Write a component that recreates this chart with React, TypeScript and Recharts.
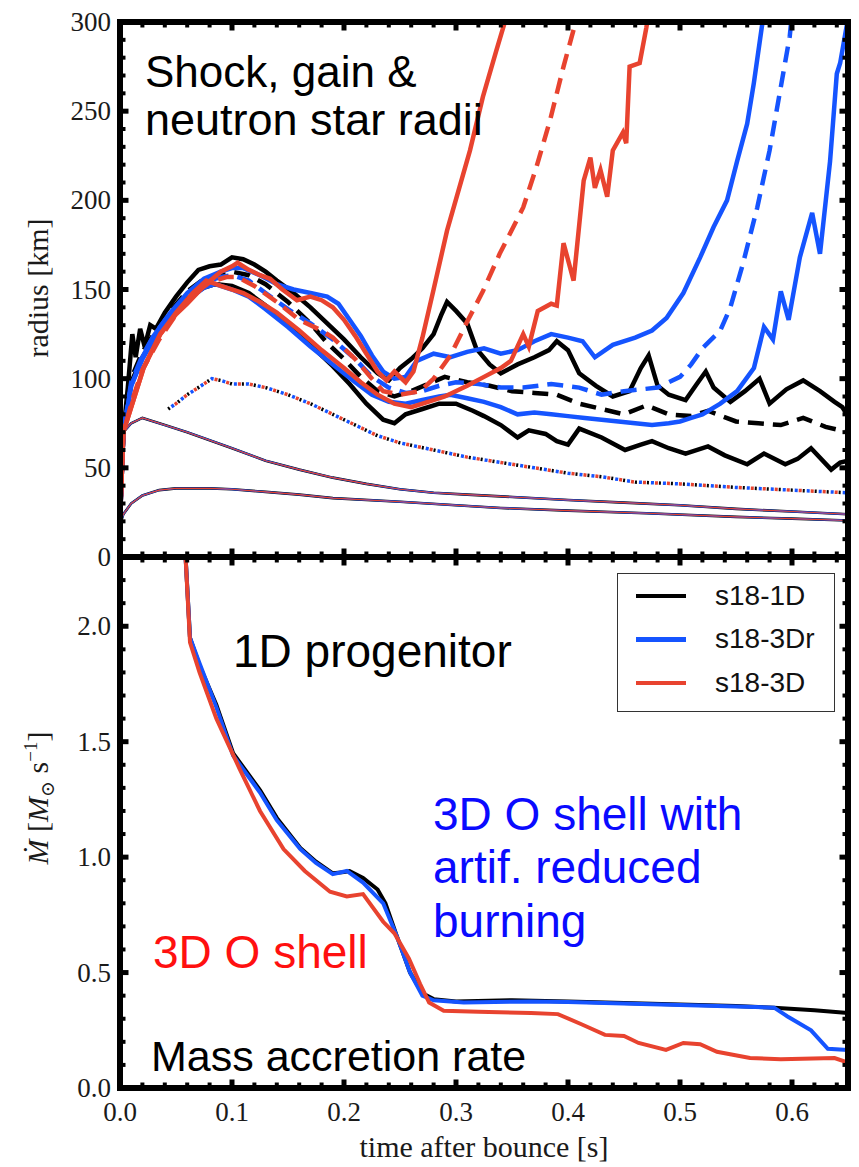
import React from 'react';
import { LineChart, Line, XAxis, YAxis, Legend } from 'recharts';

type Pt = [number, number];

// ---- top panel: radius [km] vs time after bounce [s] ----
const shockMax1D: Pt[] = [
  [0, 20], [0.003, 70], [0.007, 95], [0.011, 125], [0.014, 112], [0.018, 128], [0.022, 118], [0.027, 130],
  [0.032, 128], [0.04, 137], [0.05, 146], [0.06, 154], [0.07, 161], [0.08, 163], [0.09, 164], [0.1, 168],
  [0.11, 167], [0.12, 164], [0.13, 160], [0.14, 155], [0.155, 148], [0.17, 140], [0.185, 131], [0.2, 122],
  [0.215, 112], [0.23, 103], [0.24, 99], [0.25, 106], [0.26, 111], [0.27, 117], [0.28, 125], [0.287, 136],
  [0.292, 143], [0.3, 138], [0.31, 131], [0.318, 117], [0.33, 108], [0.34, 103], [0.355, 108], [0.37, 112],
  [0.383, 116], [0.39, 121], [0.4, 116], [0.41, 103], [0.425, 96], [0.44, 90], [0.455, 93], [0.465, 106],
  [0.472, 113], [0.48, 96], [0.49, 91], [0.505, 88], [0.515, 97], [0.523, 104], [0.53, 95], [0.545, 87],
  [0.558, 93], [0.571, 100], [0.58, 86], [0.595, 94], [0.61, 99], [0.625, 93], [0.638, 87], [0.645, 84], [0.65, 79],
];
const shockAvg1D: Pt[] = [
  [0, 20], [0.003, 70], [0.01, 100], [0.02, 115], [0.03, 125], [0.045, 138], [0.06, 149], [0.075, 156],
  [0.09, 159], [0.1, 160], [0.115, 158], [0.13, 153], [0.15, 143], [0.17, 131], [0.185, 120], [0.2, 111],
  [0.215, 101], [0.23, 93], [0.245, 90], [0.26, 93], [0.275, 97], [0.29, 101], [0.31, 98], [0.33, 96],
  [0.35, 93], [0.37, 92], [0.39, 91], [0.41, 86], [0.43, 83], [0.45, 80], [0.47, 85], [0.49, 80],
  [0.51, 79], [0.525, 82], [0.55, 76], [0.57, 75], [0.59, 74], [0.61, 78], [0.63, 73], [0.65, 70],
];
const shockMin1D: Pt[] = [
  [0, 20], [0.003, 70], [0.01, 98], [0.02, 112], [0.03, 122], [0.045, 135], [0.06, 145], [0.075, 151],
  [0.085, 153], [0.1, 152], [0.115, 148], [0.13, 141], [0.15, 131], [0.17, 119], [0.19, 107], [0.205, 97],
  [0.22, 86], [0.235, 77], [0.245, 75], [0.255, 80], [0.27, 83], [0.285, 86], [0.3, 86], [0.315, 82],
  [0.325, 79], [0.34, 74], [0.355, 67], [0.365, 71], [0.38, 69], [0.39, 65], [0.4, 63], [0.41, 72],
  [0.43, 67], [0.451, 60], [0.465, 63], [0.475, 65], [0.49, 61], [0.505, 58], [0.525, 62], [0.54, 57],
  [0.56, 52], [0.575, 58], [0.594, 52], [0.605, 55], [0.617, 61], [0.635, 49], [0.643, 53], [0.65, 54],
];
const shockMax3Dr: Pt[] = [
  [0, 20], [0.003, 70], [0.01, 96], [0.02, 112], [0.03, 124], [0.045, 137], [0.06, 148], [0.075, 156],
  [0.09, 160], [0.1, 162], [0.11, 162], [0.125, 158], [0.14, 153], [0.155, 150], [0.17, 148], [0.185, 146],
  [0.195, 142], [0.205, 133], [0.215, 124], [0.225, 113], [0.235, 104], [0.245, 100], [0.255, 101], [0.265, 110],
  [0.28, 114], [0.295, 112], [0.31, 115], [0.325, 117], [0.34, 114], [0.355, 116], [0.37, 121], [0.385, 125],
  [0.4, 123], [0.413, 121], [0.424, 112], [0.44, 119], [0.46, 123], [0.475, 127], [0.488, 134], [0.503, 148],
  [0.518, 168], [0.53, 185], [0.542, 200], [0.551, 222], [0.56, 243], [0.566, 266], [0.573, 297], [0.575, 305],
];
const shockAvg3Dr: Pt[] = [
  [0, 20], [0.003, 70], [0.01, 98], [0.02, 113], [0.03, 124], [0.045, 137], [0.06, 147], [0.075, 154],
  [0.09, 157], [0.1, 158], [0.115, 155], [0.13, 148], [0.15, 139], [0.17, 131], [0.19, 122], [0.21, 111],
  [0.225, 101], [0.24, 95], [0.255, 92], [0.27, 93], [0.285, 96], [0.3, 98], [0.32, 97], [0.34, 95],
  [0.36, 95], [0.385, 97], [0.41, 95], [0.43, 91], [0.45, 93], [0.465, 94], [0.48, 95], [0.5, 101],
  [0.51, 108], [0.52, 117], [0.536, 127], [0.545, 140], [0.556, 164], [0.569, 196], [0.58, 228], [0.589, 260],
  [0.598, 292], [0.6, 305],
];
const shockMin3Dr: Pt[] = [
  [0, 20], [0.003, 70], [0.01, 96], [0.02, 111], [0.03, 122], [0.045, 134], [0.06, 144], [0.075, 151],
  [0.085, 153], [0.1, 150], [0.115, 146], [0.13, 139], [0.15, 129], [0.17, 118], [0.19, 108], [0.21, 98],
  [0.225, 91], [0.24, 87], [0.255, 86], [0.27, 88], [0.285, 90], [0.295, 91], [0.31, 89], [0.325, 87],
  [0.34, 84], [0.355, 80], [0.37, 81], [0.385, 80], [0.4, 79], [0.415, 78], [0.43, 77], [0.445, 76],
  [0.46, 75], [0.475, 74], [0.49, 75], [0.5, 76], [0.51, 78], [0.52, 80], [0.536, 86], [0.551, 93],
  [0.566, 106], [0.575, 129], [0.583, 122], [0.59, 149], [0.597, 133], [0.607, 168], [0.618, 193], [0.625, 170],
  [0.634, 222], [0.64, 271], [0.643, 277], [0.65, 302],
];
const shockMax3D: Pt[] = [
  [0, 20], [0.003, 70], [0.012, 88], [0.021, 106], [0.036, 125], [0.05, 136], [0.06, 142], [0.075, 152],
  [0.09, 160], [0.1, 163], [0.105, 165], [0.115, 161], [0.125, 158], [0.134, 156], [0.145, 150], [0.158, 144],
  [0.17, 146], [0.18, 144], [0.19, 140], [0.2, 133], [0.21, 124], [0.22, 114], [0.23, 104], [0.238, 99],
  [0.245, 104], [0.255, 98], [0.262, 104], [0.27, 123], [0.28, 150], [0.292, 183], [0.3125, 228], [0.324, 258],
  [0.336, 284], [0.346, 305],
];
const shockAvg3D: Pt[] = [
  [0, 20], [0.003, 70], [0.012, 90], [0.02, 105], [0.035, 122], [0.05, 136], [0.065, 147], [0.08, 154],
  [0.095, 157], [0.105, 157], [0.12, 152], [0.14, 143], [0.16, 133], [0.18, 127], [0.19, 123], [0.21, 111],
  [0.225, 100], [0.235, 93], [0.25, 91], [0.268, 93], [0.28, 100], [0.295, 113], [0.31, 132], [0.324, 149],
  [0.339, 170], [0.36, 196], [0.372, 219], [0.384, 245], [0.396, 275], [0.406, 298], [0.408, 305],
];
const shockMin3D: Pt[] = [
  [0, 20], [0.003, 70], [0.012, 88], [0.021, 106], [0.036, 125], [0.05, 137], [0.065, 148], [0.077, 155],
  [0.09, 152], [0.11, 148], [0.125, 143], [0.14, 137], [0.16, 127], [0.18, 116], [0.2, 106], [0.215, 98],
  [0.23, 91], [0.245, 86], [0.26, 84], [0.275, 87], [0.29, 90], [0.31, 96], [0.325, 101], [0.34, 106],
  [0.349, 110], [0.36, 125], [0.365, 118], [0.373, 138], [0.385, 142], [0.39, 141], [0.396, 176], [0.405, 155],
  [0.414, 211], [0.42, 224], [0.424, 207], [0.429, 217], [0.435, 202], [0.44, 228], [0.449, 238], [0.452, 232],
  [0.455, 275], [0.464, 277], [0.47, 297], [0.472, 305],
];
const gainRadius: Pt[] = [
  [0.043, 83], [0.05, 86], [0.06, 91], [0.07, 95], [0.082, 100], [0.09, 99], [0.1, 97], [0.115, 97],
  [0.13, 95], [0.15, 91], [0.17, 86], [0.19, 80], [0.21, 74], [0.23, 68], [0.25, 64], [0.28, 60],
  [0.31, 56], [0.34, 53], [0.37, 50], [0.4, 47], [0.43, 45], [0.46, 42], [0.5, 41], [0.55, 39],
  [0.6, 37.5], [0.65, 36],
];
const nsRadiusOuter: Pt[] = [
  [0, 22], [0.003, 70], [0.01, 75], [0.02, 78], [0.04, 74], [0.06, 70], [0.08, 65.5], [0.1, 61],
  [0.13, 54], [0.16, 49], [0.19, 44.5], [0.22, 41], [0.25, 38], [0.28, 36], [0.31, 35], [0.34, 34],
  [0.4, 32], [0.45, 30.5], [0.5, 29], [0.55, 27], [0.6, 25.5], [0.65, 24],
];
const nsRadiusInner: Pt[] = [
  [0, 18], [0.003, 24], [0.01, 30], [0.02, 34.5], [0.035, 37.5], [0.05, 38.5], [0.08, 38.5], [0.1, 38],
  [0.13, 36.5], [0.16, 35], [0.19, 33], [0.25, 31], [0.3, 29], [0.34, 27.5], [0.4, 26], [0.47, 24.5],
  [0.55, 22.5], [0.6, 21.5], [0.65, 20.5],
];

// ---- bottom panel: mass accretion rate [Msun/s] ----
const mdot1D: Pt[] = [
  [0.058, 2.35], [0.0625, 1.95], [0.071, 1.83], [0.086, 1.66], [0.101, 1.45], [0.113, 1.37], [0.125, 1.29],
  [0.14, 1.17], [0.161, 1.04], [0.175, 0.98], [0.19, 0.93], [0.2, 0.935], [0.205, 0.94], [0.217, 0.91],
  [0.23, 0.86], [0.237, 0.8], [0.247, 0.66], [0.259, 0.5], [0.27, 0.41], [0.28, 0.385], [0.3, 0.375],
  [0.35, 0.38], [0.4, 0.375], [0.45, 0.368], [0.5, 0.362], [0.55, 0.355], [0.584, 0.348], [0.62, 0.337], [0.65, 0.325],
];
const mdot3Dr: Pt[] = [
  [0.058, 2.35], [0.0625, 1.95], [0.071, 1.84], [0.086, 1.65], [0.101, 1.44], [0.113, 1.36], [0.125, 1.28],
  [0.14, 1.16], [0.161, 1.035], [0.175, 0.975], [0.19, 0.926], [0.2025, 0.94], [0.217, 0.89], [0.235, 0.8],
  [0.247, 0.66], [0.259, 0.5], [0.27, 0.4], [0.28, 0.38], [0.307, 0.37], [0.367, 0.375], [0.4, 0.372],
  [0.457, 0.365], [0.5, 0.36], [0.55, 0.353], [0.584, 0.348], [0.596, 0.31], [0.617, 0.25], [0.632, 0.17], [0.65, 0.165],
];
const mdot3D: Pt[] = [
  [0.058, 2.35], [0.0625, 1.93], [0.071, 1.8], [0.086, 1.6], [0.107, 1.38], [0.125, 1.2], [0.146, 1.035],
  [0.165, 0.94], [0.1875, 0.85], [0.2025, 0.83], [0.217, 0.84], [0.235, 0.72], [0.245, 0.67], [0.258, 0.56],
  [0.268, 0.45], [0.276, 0.37], [0.289, 0.335], [0.32, 0.33], [0.367, 0.325], [0.391, 0.32], [0.4125, 0.275],
  [0.433, 0.23], [0.45, 0.225], [0.463, 0.195], [0.4875, 0.165], [0.503, 0.195], [0.518, 0.19], [0.533, 0.157],
  [0.5625, 0.13], [0.59, 0.125], [0.638, 0.13], [0.65, 0.11],
];

// ---- axes ----
const xTicks = [0, 0.02, 0.04, 0.06, 0.08, 0.1, 0.12, 0.14, 0.16, 0.18, 0.2, 0.22, 0.24, 0.26, 0.28, 0.3,
  0.32, 0.34, 0.36, 0.38, 0.4, 0.42, 0.44, 0.46, 0.48, 0.5, 0.52, 0.54, 0.56, 0.58, 0.6, 0.62, 0.64];
const xTickLabels = ['0.0', '0.1', '0.2', '0.3', '0.4', '0.5', '0.6'];
const rTicks = [0, 10, 20, 30, 40, 50, 60, 70, 80, 90, 100, 110, 120, 130, 140, 150, 160, 170, 180, 190,
  200, 210, 220, 230, 240, 250, 260, 270, 280, 290, 300];
const rTickLabels = ['0', '50', '100', '150', '200', '250', '300'];
const mTicks = [0, 0.1, 0.2, 0.3, 0.4, 0.5, 0.6, 0.7, 0.8, 0.9, 1.0, 1.1, 1.2, 1.3, 1.4, 1.5, 1.6, 1.7,
  1.8, 1.9, 2.0, 2.1, 2.2];
const mTickLabels = ['0.0', '0.5', '1.0', '1.5', '2.0'];
const models = ['s18-1D', 's18-3Dr', 's18-3D'];

const BLACK = '#000000';
const BLUE = '#1554ff';
const RED = '#e8432f';
const modelColors = [BLACK, BLUE, RED];
const SERIF = '"Liberation Serif", "DejaVu Serif", serif';
const SANS = '"Liberation Sans", Arial, "Noto Sans", sans-serif';

const rows = (pts: Pt[]) => pts.map(([t, v]) => ({ t, v }));

const xMajor = (v: number) => Math.abs(v * 10 - Math.round(v * 10)) < 1e-6;
const rMajor = (v: number) => v % 50 === 0;
const mMajor = (v: number) => Math.abs(v * 2 - Math.round(v * 2)) < 1e-6;

type Side = 'bottom' | 'top' | 'left' | 'right';
const inward: Record<Side, [number, number]> = { bottom: [0, -1], top: [0, 1], left: [1, 0], right: [-1, 0] };
const tickText = { fontFamily: SERIF, fontSize: 27, fill: '#1a1a1a' };

// inward ticks (major/minor), labels only where asked
function makeTick(side: Side, isMajor: (v: number) => boolean, labelOf?: (v: number) => string) {
  return (props: any) => {
    const { x, y, payload } = props;
    const v = payload.value as number;
    const major = isMajor(v);
    const len = major ? 8.5 : 5.5;
    const [dx, dy] = inward[side];
    const label = labelOf && major ? labelOf(v) : null;
    return (
      <g>
        <line x1={x} y1={y} x2={x + dx * len} y2={y + dy * len} stroke="#000" strokeWidth={major ? 5 : 4} />
        {label && side === 'bottom' && (
          <text x={x} y={y + 33} textAnchor="middle" style={tickText}>{label}</text>
        )}
        {label && side === 'left' && (
          <text x={x - 9} y={y + 9} textAnchor="end" style={tickText}>{label}</text>
        )}
      </g>
    );
  };
}

const frame = { stroke: '#000', strokeWidth: 6, strokeLinecap: 'square' as const };
const X_DOMAIN: [number, number] = [0, 0.65];

function LegendBox() {
  return (
    <div style={{ width: 218, height: 139, boxSizing: 'border-box', border: '1.5px solid #333', background: '#fff' }}>
      {models.map((m, i) => (
        <div key={m} style={{ height: 43.5, display: 'flex', alignItems: 'center' }}>
          <div style={{ width: 50, height: 4.5, background: modelColors[i], marginLeft: 18 }} />
          <span style={{ marginLeft: 29, fontFamily: SANS, fontSize: 28, color: '#111' }}>{m}</span>
        </div>
      ))}
    </div>
  );
}

export default function App() {
  const thick = 4.5;
  const dash = '16 9';
  return (
    <div style={{ position: 'absolute', left: 0, top: 0, width: 859, height: 1167, background: '#fff' }}>
      {/* radii panel */}
      <div style={{ position: 'absolute', left: 0, top: 0 }}>
        <LineChart width={859} height={580} margin={{ top: 21, right: 10, bottom: 22, left: 0 }}>
          <XAxis dataKey="t" type="number" domain={X_DOMAIN} allowDataOverflow ticks={xTicks} interval={0}
            height={1} tickSize={0} tickMargin={0} tickLine={false} axisLine={frame} tick={makeTick('bottom', xMajor)} />
          <XAxis xAxisId="top" orientation="top" dataKey="t" type="number" domain={X_DOMAIN} allowDataOverflow ticks={xTicks}
            interval={0} height={1} tickSize={0} tickMargin={0} tickLine={false} axisLine={frame} tick={makeTick('top', xMajor)} />
          <YAxis type="number" domain={[0, 300]} allowDataOverflow ticks={rTicks} interval={0} width={120}
            tickSize={0} tickMargin={0} tickLine={false} axisLine={frame}
            tick={makeTick('left', rMajor, (v) => rTickLabels[v / 50])} />
          <YAxis yAxisId="right" orientation="right" type="number" domain={[0, 300]} allowDataOverflow ticks={rTicks}
            interval={0} width={1} tickSize={0} tickMargin={0} tickLine={false} axisLine={frame} tick={makeTick('right', rMajor)} />

          {/* neutron star radii, three models on top of each other */}
          <Line data={rows(nsRadiusOuter)} dataKey="v" stroke={BLACK} strokeWidth={2.6} dot={false} isAnimationActive={false} />
          <Line data={rows(nsRadiusOuter)} dataKey="v" stroke={BLUE} strokeWidth={1.9} dot={false} isAnimationActive={false} />
          <Line data={rows(nsRadiusOuter)} dataKey="v" stroke={RED} strokeWidth={1.1} dot={false} isAnimationActive={false} />
          <Line data={rows(nsRadiusInner)} dataKey="v" stroke={BLACK} strokeWidth={2.6} dot={false} isAnimationActive={false} />
          <Line data={rows(nsRadiusInner)} dataKey="v" stroke={BLUE} strokeWidth={1.9} dot={false} isAnimationActive={false} />
          <Line data={rows(nsRadiusInner)} dataKey="v" stroke={RED} strokeWidth={1.1} dot={false} isAnimationActive={false} />

          {/* gain radius: dotted, the three models interleaved */}
          <Line data={rows(gainRadius)} dataKey="v" stroke={BLACK} strokeWidth={3.5} strokeDasharray="2 10" dot={false} isAnimationActive={false} />
          <Line data={rows(gainRadius)} dataKey="v" stroke={BLUE} strokeWidth={3.5} strokeDasharray="3 9" strokeDashoffset={-4} dot={false} isAnimationActive={false} />
          <Line data={rows(gainRadius)} dataKey="v" stroke={RED} strokeWidth={3.5} strokeDasharray="3 9" strokeDashoffset={-8} dot={false} isAnimationActive={false} />

          {/* shock radii: max, average, min */}
          <Line data={rows(shockMax1D)} dataKey="v" stroke={BLACK} strokeWidth={thick} dot={false} isAnimationActive={false} />
          <Line data={rows(shockAvg1D)} dataKey="v" stroke={BLACK} strokeWidth={thick} strokeDasharray={dash} dot={false} isAnimationActive={false} />
          <Line data={rows(shockMin1D)} dataKey="v" stroke={BLACK} strokeWidth={thick} dot={false} isAnimationActive={false} />
          <Line data={rows(shockMax3Dr)} dataKey="v" stroke={BLUE} strokeWidth={thick} dot={false} isAnimationActive={false} />
          <Line data={rows(shockAvg3Dr)} dataKey="v" stroke={BLUE} strokeWidth={thick} strokeDasharray={dash} dot={false} isAnimationActive={false} />
          <Line data={rows(shockMin3Dr)} dataKey="v" stroke={BLUE} strokeWidth={thick} dot={false} isAnimationActive={false} />
          <Line data={rows(shockMax3D)} dataKey="v" stroke={RED} strokeWidth={thick} dot={false} isAnimationActive={false} />
          <Line data={rows(shockAvg3D)} dataKey="v" stroke={RED} strokeWidth={thick} strokeDasharray={dash} dot={false} isAnimationActive={false} />
          <Line data={rows(shockMin3D)} dataKey="v" stroke={RED} strokeWidth={thick} dot={false} isAnimationActive={false} />
        </LineChart>
      </div>

      {/* mass accretion rate panel */}
      <div style={{ position: 'absolute', left: 0, top: 556 }}>
        <LineChart width={859} height={611} margin={{ top: 0, right: 10, bottom: 0, left: 0 }}>
          <XAxis dataKey="t" type="number" domain={X_DOMAIN} allowDataOverflow ticks={xTicks} interval={0}
            height={79} tickSize={0} tickMargin={0} tickLine={false} axisLine={frame}
            tick={makeTick('bottom', xMajor, (v) => xTickLabels[Math.round(v * 10)])} />
          <XAxis xAxisId="top" orientation="top" dataKey="t" type="number" domain={X_DOMAIN} allowDataOverflow ticks={xTicks}
            interval={0} height={1} tickSize={0} tickMargin={0} tickLine={false} axisLine={frame} tick={makeTick('top', xMajor)} />
          <YAxis type="number" domain={[0, 2.3]} allowDataOverflow ticks={mTicks} interval={0} width={120}
            tickSize={0} tickMargin={0} tickLine={false} axisLine={frame}
            tick={makeTick('left', mMajor, (v) => mTickLabels[Math.round(v * 2)])} />
          <YAxis yAxisId="right" orientation="right" type="number" domain={[0, 2.3]} allowDataOverflow ticks={mTicks}
            interval={0} width={1} tickSize={0} tickMargin={0} tickLine={false} axisLine={frame} tick={makeTick('right', mMajor)} />
          <Legend layout="vertical" align="center" verticalAlign="middle" content={<LegendBox />}
            wrapperStyle={{ left: 617, top: 17, width: 218 }} />
          <Line data={rows(mdot1D)} name={models[0]} dataKey="v" stroke={BLACK} strokeWidth={4} dot={false} isAnimationActive={false} />
          <Line data={rows(mdot3Dr)} name={models[1]} dataKey="v" stroke={BLUE} strokeWidth={4} dot={false} isAnimationActive={false} />
          <Line data={rows(mdot3D)} name={models[2]} dataKey="v" stroke={RED} strokeWidth={4} dot={false} isAnimationActive={false} />
        </LineChart>
      </div>

      {/* labels and annotations */}
      <svg width={859} height={1167} style={{ position: 'absolute', left: 0, top: 0, pointerEvents: 'none' }}>
        <text x={48} y={288} transform="rotate(-90 48 288)" textAnchor="middle" style={{ fontFamily: SERIF, fontSize: 30, fill: '#1a1a1a' }}>
          radius [km]
        </text>
        <text x={48} y={798} transform="rotate(-90 48 798)" textAnchor="middle" style={{ fontFamily: SERIF, fontSize: 30, fill: '#1a1a1a' }}>
          <tspan fontStyle="italic">Ṁ</tspan> [<tspan fontStyle="italic">M</tspan>
          <tspan fontSize={19} dy={6}>⊙</tspan>
          <tspan dy={-6}> s</tspan>
          <tspan fontSize={19} dy={-11}>−1</tspan>
          <tspan dy={11}>]</tspan>
        </text>
        <text x={484} y={1157} textAnchor="middle" style={{ fontFamily: SERIF, fontSize: 30, fill: '#1a1a1a' }}>time after bounce [s]</text>

        <g style={{ fontFamily: SANS }}>
          <text x={145} y={87} fontSize={44} fill="#000">Shock, gain &amp;</text>
          <text x={145} y={135} fontSize={45} fill="#000">neutron star radii</text>
          <text x={233} y={667} fontSize={46} fill="#000">1D progenitor</text>
          <text x={433} y={830} fontSize={46} fill="#0a0aff">3D O shell with</text>
          <text x={433} y={883} fontSize={46} fill="#0a0aff">artif. reduced</text>
          <text x={433} y={937} fontSize={46} fill="#0a0aff">burning</text>
          <text x={153} y={968} fontSize={46} fill="#ff1010">3D O shell</text>
          <text x={151} y={1071} fontSize={43} fill="#000">Mass accretion rate</text>
        </g>
      </svg>
    </div>
  );
}
